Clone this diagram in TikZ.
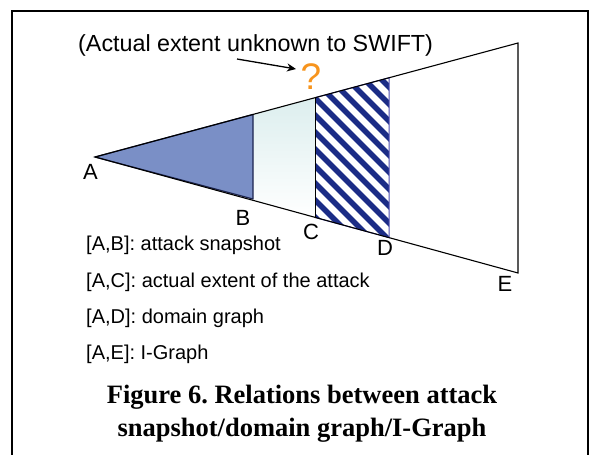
\documentclass[tikz,border=0pt]{standalone}
\usepackage{fontspec}
\setmainfont{Liberation Sans}
\newfontfamily\captionserif{Liberation Serif}
\usetikzlibrary{arrows.meta}
\frenchspacing

\definecolor{snapblue}{HTML}{7A8FC6}
\definecolor{snapedge}{HTML}{1C2450}
\definecolor{paleteal}{HTML}{DCEEEE}
\definecolor{stripeblue}{HTML}{1B2C86}
\definecolor{domainedge}{HTML}{4A4AAE}
\definecolor{qorange}{HTML}{F7941D}

\tikzset{
  frameline/.style={line width=1.5pt, black},
  coneline/.style={line width=1.1pt, black},
  ptlabel/.style={font=\fontsize{22}{24}\selectfont, inner sep=0pt},
  keytext/.style={font=\fontsize{20}{22}\selectfont, inner sep=0pt, anchor=base west},
  captiontext/.style={font=\captionserif\bfseries\fontsize{26.5}{33}\selectfont, inner sep=0pt, align=center},
  stripe/.style={line width=5.5pt, stripeblue},
}

\begin{document}
\begin{tikzpicture}[x=1pt, y=-1pt]
\useasboundingbox (0,0) rectangle (592,455);

% open frame: left, top and right sides
\draw[frameline] (12,455) -- (12,11) -- (588,11) -- (588,455);

% corner points of the cone and the section cuts
\coordinate (A)  at (95,157);
\coordinate (Bt) at (253,114.5);
\coordinate (Bb) at (253,199);
\coordinate (Cb0) at (253,200.3);
\coordinate (Ct) at (315,97.7);
\coordinate (Cb) at (315,217.5);
\coordinate (Dt) at (389,77.8);
\coordinate (Db) at (389,237.6);
\coordinate (Et) at (518,43);
\coordinate (Eb) at (518,273);

% actual extent of the attack: pale band between B and C
\shade[top color=paleteal, bottom color=white] (Bt) -- (Ct) -- (Cb) -- (Cb0) -- cycle;

% domain graph: striped band between C and D
\begin{scope}
  \clip (Ct) -- (Dt) -- (Db) -- (Cb) -- cycle;
  \fill[white] (Ct) -- (Dt) -- (Db) -- (Cb) -- cycle;
  \foreach \i in {-16,...,16}
    \draw[stripe] (260+\i*17,60) -- ++(200,200);
\end{scope}
\draw[domainedge, line width=1pt] (Ct) -- (Dt) -- (Db) -- (Cb);

% attack snapshot: filled triangle from A to B
\draw[snapedge, line width=1.2pt, fill=snapblue, line join=round] (A) -- (Bt) -- (Bb) -- cycle;

% I-Graph cone outline
\draw[coneline] (A) -- (Et) -- (Eb) -- cycle;
\draw[black, line width=1pt] (Ct) -- (Cb);

% point labels
\node[ptlabel] (la) at (90.5,172) {A};
\node[ptlabel] (lb) at (243,218) {B};
\node[ptlabel] (lc) at (311,232) {C};
\node[ptlabel] (ld) at (385,248) {D};
\node[ptlabel] (le) at (505,284) {E};

% note about the unknown extent
\node[font=\fontsize{23.3}{26}\selectfont, inner sep=0pt, anchor=base west] (note) at (78,51.5) {(Actual extent unknown to SWIFT)};
\node[font=\fontsize{37}{40}\selectfont, text=qorange, inner sep=0pt] (q) at (311,77) {?};
\coordinate (tail) at (237,59);
\draw[-{Stealth[length=9pt,width=8pt]}, line width=1.3pt] (tail) -- (296,69) coordinate (head);

% key
\node[keytext] (k1) at (86,250) {[A,B]: attack snapshot};
\node[keytext] (k2) at (86,287) {[A,C]: actual extent of the attack};
\node[keytext] (k3) at (86,323) {[A,D]: domain graph};
\node[keytext] (k4) at (86,359) {[A,E]: I-Graph};

% caption
\node[captiontext] (cap) at (302,414) {Figure 6. Relations between attack\\snapshot/domain graph/I-Graph};
\end{tikzpicture}
\end{document}
